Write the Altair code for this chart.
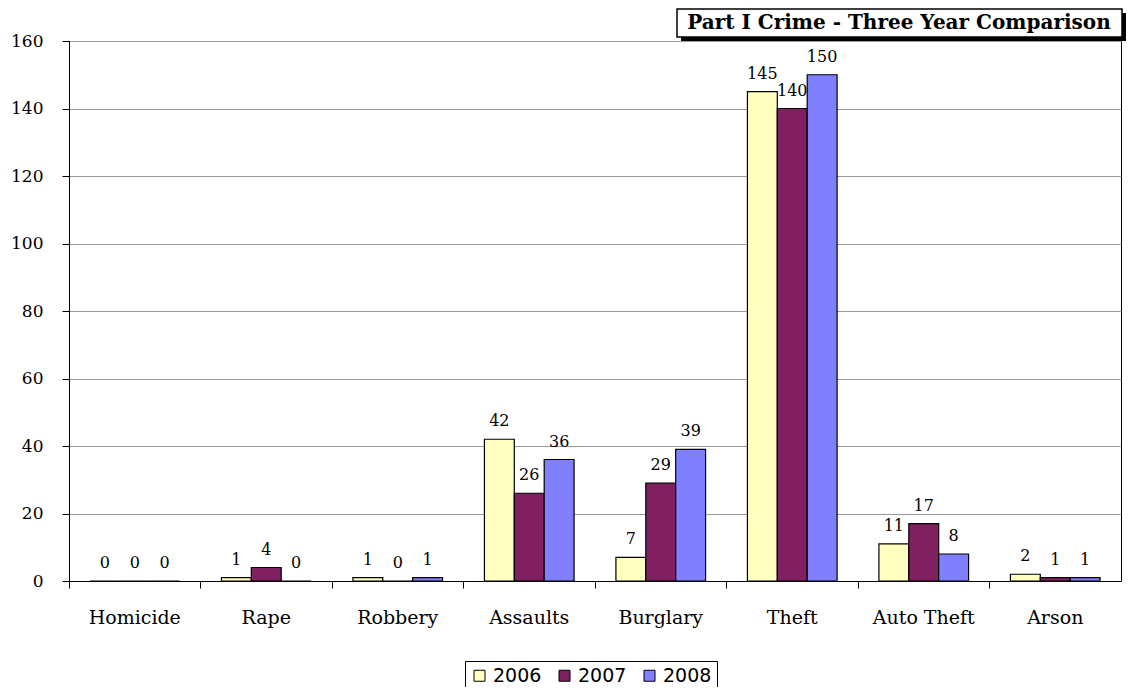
import altair as alt
import pandas as pd

categories = ["Homicide", "Rape", "Robbery", "Assaults", "Burglary", "Theft", "Auto Theft", "Arson"]
years = ["2006", "2007", "2008"]
v2006 = [0, 1, 1, 42, 7, 145, 11, 2]
v2007 = [0, 4, 0, 26, 29, 140, 17, 1]
v2008 = [0, 0, 1, 36, 39, 150, 8, 1]
colors = ["#FFFFC0", "#802060", "#8080FF"]
title_text = "Part I Crime - Three Year Comparison"

rows = []
for y, vals in zip(years, [v2006, v2007, v2008]):
    for c, v in zip(categories, vals):
        rows.append({"Category": c, "Year": y, "Value": v})
df = pd.DataFrame(rows)

SERIF = "DejaVu Serif"

x = alt.X("Category:N", sort=categories, title=None,
          scale=alt.Scale(paddingInner=0, paddingOuter=0),
          axis=alt.Axis(labelAngle=0, bandPosition=0, tickSize=7, tickColor="black",
                        domainColor="black", labelFont=SERIF, labelFontSize=19,
                        labelColor="black", labelPadding=20, grid=False))
xo = alt.XOffset("Year:N", sort=years,
                 scale=alt.Scale(paddingInner=0, paddingOuter=0.7))
y = alt.Y("Value:Q", title=None,
          scale=alt.Scale(domain=[0, 160], nice=False),
          axis=alt.Axis(values=list(range(0, 161, 20)), tickSize=7, tickColor="black",
                        domainColor="black", gridColor="#9a9a9a", labelFont=SERIF,
                        labelFontSize=17, labelColor="black", labelPadding=19))

base = alt.Chart(df)
bars = base.mark_bar(stroke="black", strokeWidth=1.2).encode(
    x=x, xOffset=xo, y=y,
    color=alt.Color("Year:N", sort=years,
                    scale=alt.Scale(domain=years, range=colors),
                    legend=alt.Legend(title=None)),
)
labels = base.mark_text(baseline="alphabetic", dy=-13, font=SERIF, fontSize=16, color="black").encode(
    x=alt.X("Category:N", sort=categories), xOffset=alt.XOffset("Year:N", sort=years), y="Value:Q",
    text="Value:Q",
)

tdf = pd.DataFrame({"t": [title_text]})
shadow = alt.Chart(tdf).mark_rect(color="black").encode(
    x=alt.value(612), x2=alt.value(1057), y=alt.value(-28), y2=alt.value(0))
box = alt.Chart(tdf).mark_rect(fill="white", stroke="black", strokeWidth=1.5).encode(
    x=alt.value(608), x2=alt.value(1053), y=alt.value(-32), y2=alt.value(-4))
ttext = alt.Chart(tdf).mark_text(font=SERIF, fontSize=20, fontWeight="bold", color="black",
                                 baseline="middle").encode(
    x=alt.value(830), y=alt.value(-18), text="t:N")

chart = alt.layer(bars, labels, shadow, box, ttext).properties(
    width=1052, height=540,
    padding={"left": 61, "top": 33, "right": 6, "bottom": 106},
    autosize=alt.AutoSizeParams(type="none"),
).configure_view(stroke="black", strokeWidth=1).configure_legend(
    orient="none", legendX=396, legendY=620, direction="horizontal",
    strokeColor="black", fillColor="white", padding=5,
    symbolType="square", symbolSize=121, symbolStrokeColor="black", symbolStrokeWidth=1,
    symbolOpacity=1, labelFont="DejaVu Sans", labelFontSize=19, labelColor="black",
    columnPadding=13, symbolOffset=0,
)

chart.save("out.html", embed_options={"renderer": "svg", "actions": False})
